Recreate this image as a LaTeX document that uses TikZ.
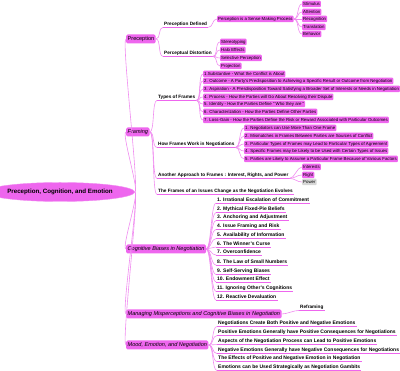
\documentclass[tikz,border=0pt]{standalone}
\usepackage{fontspec}
\setmainfont{Liberation Sans}
\usetikzlibrary{shapes.geometric, positioning}
\definecolor{mapfill}{RGB}{238,102,238}
\definecolor{mapline}{RGB}{240,140,240}
\definecolor{mapgray}{RGB}{215,215,215}

\begin{document}
\begin{tikzpicture}[x=1pt, y=-1pt,
  root/.style={ellipse, draw=mapline, fill=mapfill, minimum width=116pt,
               minimum height=19pt, inner sep=0pt,
               font=\fontsize{6.2}{7}\selectfont\bfseries},
  topic/.style={rectangle, rounded corners=1.5pt, fill=mapfill, anchor=west,
                minimum height=9pt, inner sep=1.5pt,
                font=\fontsize{5.55}{6}\selectfont\itshape},
  leaf/.style={rectangle, rounded corners=1pt, fill=mapfill, anchor=west,
               minimum height=6.5pt, inner sep=1pt,
               font=\fontsize{4.35}{5}\selectfont},
  sub/.style={inner sep=1pt, anchor=west,
              font=\fontsize{4.7}{5}\selectfont\bfseries,
              append after command={(\tikzlastnode.south west)
                edge[draw=mapfill, line width=0.8pt] (\tikzlastnode.south east)}},
  item/.style={sub, font=\fontsize{5}{5.5}\selectfont\bfseries},
  link/.style={draw=mapline, line width=0.6pt, out=0, in=180, distance=5pt}
]
  \useasboundingbox (0,0) rectangle (400,371);

  % Root
  \node[root] (root) at (60,192) {Preception, Cognition, and Emotion};

  % Perception branch
  \node[topic, font=\fontsize{5.55}{6}\selectfont] (perc) at (126,39) {Preception};
  \node[sub]  (pdef)   at (163,24)  {Preception Defined};
  \node[leaf] (sense)  at (217,19)  {Perception is a Sense Making Process};
  \node[leaf] (stim)   at (302,4)   {Stimulus};
  \node[leaf] (att)    at (302,12)  {Attention};
  \node[leaf] (recog)  at (302,19)  {Recognition};
  \node[leaf] (transl) at (302,27)  {Translation};
  \node[leaf] (behav)  at (302,34)  {Behavior};
  \node[sub]  (pdist)  at (163,53)  {Perceptual Distortion};
  \node[leaf] (stereo) at (220,42)  {Stereotyping};
  \node[leaf] (halo)   at (220,50)  {Halo Effects};
  \node[leaf] (selper) at (220,58)  {Selective Perception};
  \node[leaf] (proj)   at (220,66)  {Projection};

  % Framing branch
  \node[topic] (fram) at (126,132) {Framing};
  \node[sub]  (types) at (157,97) {Types of Frames};
  \node[leaf] (t1) at (203,74)  {1.Substantive - What the Conflict is About};
  \node[leaf] (t2) at (203,81)  {2. Outcome - A Party's Predisposition to Achieving a Specific Result or Outcome from Negotiation};
  \node[leaf] (t3) at (203,89)  {3. Aspiration - A Presdisposition Toward Satisfying a Broader Set of Interests or Needs in Negotiation};
  \node[leaf] (t4) at (203,97)  {4. Process - How the Parties will Go About Resolving their Dispute};
  \node[leaf] (t5) at (203,104) {5. Identity - How the Parties Define " Who they are "};
  \node[leaf] (t6) at (203,112) {6. Characterization - How the Parties Define Other Parties};
  \node[leaf] (t7) at (203,120) {7. Loss-Gain - How the Parties Define the Risk or Reward Associated with Particular Outcomes};
  \node[sub]  (work) at (157,144) {How Frames Work in Negotiations};
  \node[leaf] (w1) at (244,128) {1. Negotiators can Use More Than One Frame};
  \node[leaf] (w2) at (244,136) {2. Mismatches in Frames Between Parties are Sources of Conflict};
  \node[leaf] (w3) at (244,144) {3. Particular Types of Frames may Lead to Particular Types of Agreement};
  \node[leaf] (w4) at (244,151) {4. Specific Frames may be Likely to be Used with Certain Types of Issues};
  \node[leaf] (w5) at (244,159) {5. Parties are Likely to Assume a Particular Frame Because of Various Factors};
  \node[sub]  (irp) at (157,175) {Another Approach to Frames : Interest, Rights, and Power};
  \node[leaf] (inter) at (302,167) {Interests};
  \node[leaf] (right) at (302,175) {Right};
  \node[leaf, fill=mapgray] (power) at (302,182) {Power};
  \node[sub]  (evol) at (157,191) {The Frames of an Issues Change as the Negotiation Evolves};

  % Cognitive biases branch
  \node[topic] (cog) at (126,249) {Cognitive Biases in Negotiation};
  \node[item] (b1)  at (216,200) {1. Irrational Escalation of Commitment};
  \node[item] (b2)  at (216,209) {2. Mythical Fixed-Pie Beliefs};
  \node[item] (b3)  at (216,217) {3. Anchoring and Adjustment};
  \node[item] (b4)  at (216,226) {4. Issue Framing and Risk};
  \node[item] (b5)  at (216,235) {5. Availability of Information};
  \node[item] (b6)  at (216,244) {6. The Winner's Curse};
  \node[item] (b7)  at (216,252) {7. Overconfidence};
  \node[item] (b8)  at (216,262) {8. The Law of Small Numbers};
  \node[item] (b9)  at (216,271) {9. Self-Serving Biases};
  \node[item] (b10) at (216,279) {10. Endowment Effect};
  \node[item] (b11) at (216,288) {11. Ignoring Other's Cognitions};
  \node[item] (b12) at (216,297) {12. Reactive Devaluation};

  % Managing branch
  \node[topic] (manage) at (126,314) {Managing Misperceptions and Cognitive Biases in Negotiation};
  \node[sub] (refr) at (299,307) {Reframing};

  % Mood branch
  \node[topic] (mood) at (126,345) {Mood, Emotion, and Negotiation};
  \node[item] (e1) at (217,323) {Negotiations Create Both Positive and Negative Emotions};
  \node[item] (e2) at (217,332) {Positive Emotions Generally have Positive Consequences for Negotiations};
  \node[item] (e3) at (217,341) {Aspects of the Negotiation Process can Lead to Positive Emotions};
  \node[item] (e4) at (217,350) {Negative Emotions Generally have Negative Consequences for Negotiations};
  \node[item] (e5) at (217,358) {The Effects of Positive and Negative Emotion in Negotiation};
  \node[item] (e6) at (217,367) {Emotions can be Used Strategically as Negotiation Gambits};

  % Connectors
  \draw (root.east) edge[link] (perc.west) edge[link] (fram.west)
        edge[link] (cog.west) edge[link] (manage.west) edge[link] (mood.west);
  \draw (perc.east) edge[link] (pdef.south west) edge[link] (pdist.south west);
  \draw (pdef.south east) edge[link] (sense.west);
  \draw (sense.east) edge[link] (stim.west) edge[link] (att.west)
        edge[link] (recog.west) edge[link] (transl.west) edge[link] (behav.west);
  \draw (pdist.south east) edge[link] (stereo.west) edge[link] (halo.west)
        edge[link] (selper.west) edge[link] (proj.west);
  \draw (fram.east) edge[link] (types.south west) edge[link] (work.south west)
        edge[link] (irp.south west) edge[link] (evol.south west);
  \draw (types.south east) edge[link] (t1.west) edge[link] (t2.west)
        edge[link] (t3.west) edge[link] (t4.west) edge[link] (t5.west)
        edge[link] (t6.west) edge[link] (t7.west);
  \draw (work.south east) edge[link] (w1.west) edge[link] (w2.west)
        edge[link] (w3.west) edge[link] (w4.west) edge[link] (w5.west);
  \draw (irp.south east) edge[link] (inter.west) edge[link] (right.west)
        edge[link] (power.west);
  \draw (cog.east) edge[link] (b1.south west) edge[link] (b2.south west)
        edge[link] (b3.south west) edge[link] (b4.south west)
        edge[link] (b5.south west) edge[link] (b6.south west)
        edge[link] (b7.south west) edge[link] (b8.south west)
        edge[link] (b9.south west) edge[link] (b10.south west)
        edge[link] (b11.south west) edge[link] (b12.south west);
  \draw (manage.east) edge[link] (refr.south west);
  \draw (mood.east) edge[link] (e1.south west) edge[link] (e2.south west)
        edge[link] (e3.south west) edge[link] (e4.south west)
        edge[link] (e5.south west) edge[link] (e6.south west);
\end{tikzpicture}
\end{document}
